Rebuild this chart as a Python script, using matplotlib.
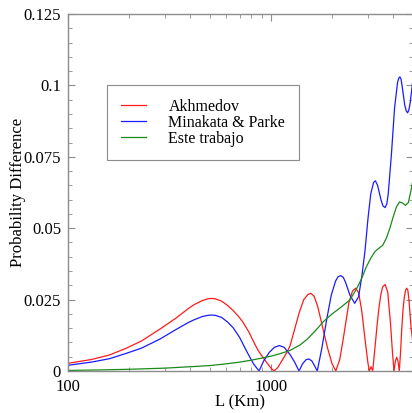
from matplotlib import pyplot as plt
from matplotlib.ticker import FixedLocator, FixedFormatter, NullFormatter
import numpy as np
import matplotlib as mpl
mpl.rcParams['font.family'] = ['Liberation Serif', 'DejaVu Serif']
mpl.rcParams['font.size'] = 12

# data (L in km, probability difference)
L_akh = [100, 130, 160, 194, 230, 284, 340, 392, 420, 460, 490, 510, 530, 570, 610,
         650, 690, 726, 780, 824, 867, 940, 1000, 1035, 1080, 1140, 1190, 1241,
         1300, 1378, 1450, 1520, 1570, 1630, 1700, 1800, 1900, 2000, 2085, 2180,
         2260, 2334, 2420, 2520, 2613, 2700, 2800, 2900, 3000, 3050, 3110, 3170,
         3250, 3330, 3400, 3480, 3550, 3650, 3760, 3880, 3970, 4037, 4100, 4158,
         4220, 4285, 4350, 4400, 4470, 4530, 4600, 4660, 4720, 4780, 4900, 5000]
P_akh = [0.0027, 0.0040, 0.0056, 0.0080, 0.0105, 0.0147, 0.0185, 0.0219, 0.0233,
         0.0247, 0.0253, 0.0254, 0.0253, 0.0245, 0.0230, 0.0212, 0.0192, 0.0172,
         0.0135, 0.0100, 0.0070, 0.0035, 0.0010, 0.0, 0.0012, 0.0040, 0.0062,
         0.0088, 0.0140, 0.0205, 0.0250, 0.0268, 0.0272, 0.0262, 0.0225, 0.0150,
         0.0080, 0.0025, 0.0, 0.0040, 0.0105, 0.0168, 0.0240, 0.0280, 0.0290,
         0.0275, 0.0210, 0.0115, 0.0030, 0.0, 0.0015, 0.0, 0.0080, 0.0160,
         0.0220, 0.0270, 0.0295, 0.0303, 0.0275, 0.0165, 0.0060, 0.0, 0.0035,
         0.0048, 0.0035, 0.0, 0.0070, 0.0140, 0.0215, 0.0255, 0.0283, 0.0290,
         0.0283, 0.0250, 0.0150, 0.0100]

L_mp = [100, 130, 160, 194, 230, 284, 340, 392, 420, 460, 490, 510, 530, 570, 610,
        650, 700, 760, 820, 873, 920, 980, 1040, 1099, 1160, 1240, 1310, 1374,
        1430, 1490, 1538, 1590, 1640, 1690, 1780, 1880, 1980, 2080, 2140, 2203,
        2270, 2330, 2450, 2583, 2700, 2800, 2904, 3000, 3100, 3200, 3267, 3350,
        3480, 3560, 3648, 3720, 3780, 3920, 4060, 4200, 4260, 4315, 4370, 4420,
        4560, 4640, 4710, 4780, 4850, 5000]
P_mp = [0.0020, 0.0031, 0.0043, 0.0062, 0.0080, 0.0112, 0.0145, 0.0170, 0.0180,
        0.0191, 0.0195, 0.0196, 0.0195, 0.0188, 0.0172, 0.0152, 0.0118, 0.0068,
        0.0025, 0.0, 0.0035, 0.0065, 0.0083, 0.0089, 0.0083, 0.0058, 0.0030,
        0.0, 0.0025, 0.0040, 0.0042, 0.0035, 0.0018, 0.0, 0.0080, 0.0180,
        0.0265, 0.0315, 0.0330, 0.0334, 0.0328, 0.0310, 0.0265, 0.0237, 0.0260,
        0.0330, 0.0420, 0.0530, 0.0620, 0.0660, 0.0666, 0.0650, 0.0600, 0.0578,
        0.0572, 0.0585, 0.0620, 0.0760, 0.0920, 0.1010, 0.1025, 0.1030, 0.1022,
        0.1000, 0.0930, 0.0910, 0.0904, 0.0915, 0.0940, 0.1020]

L_et = [100, 150, 200, 300, 400, 500, 600, 700, 800, 883, 1000, 1100, 1241, 1389,
        1500, 1650, 1811, 2000, 2200, 2449, 2650, 2800, 2950, 3100, 3250, 3400,
        3550, 3700, 3850, 4000, 4150, 4300, 4450, 4600, 4750, 4900, 5000]
P_et = [0.0002, 0.0004, 0.0006, 0.0010, 0.0015, 0.0019, 0.0025, 0.0031, 0.0038,
        0.0044, 0.0052, 0.0060, 0.0072, 0.0091, 0.0110, 0.0140, 0.0173, 0.0200,
        0.0222, 0.0249, 0.0290, 0.0325, 0.0365, 0.0395, 0.0418, 0.0430, 0.0440,
        0.0465, 0.0500, 0.0540, 0.0575, 0.0592, 0.0588, 0.0580, 0.0590, 0.0635,
        0.0668]

labels = ['Akhmedov', 'Minakata & Parke', 'Este trabajo']
ytick_vals = [0, 0.025, 0.05, 0.075, 0.1, 0.125]
ytick_labels = ['0', '0.025', '0.05', '0.075', '0.1', '0.125']

fig = plt.figure(figsize=(4.12, 4.13), dpi=100)
ax = fig.add_axes([68/412, 42/413, 344.9/412, 357/413])

ax.plot(L_akh, P_akh, color='#ff1a1a', lw=0.9, label=labels[0])
ax.plot(L_mp, P_mp, color='#1a1aff', lw=0.9, label=labels[1])
ax.plot(L_et, P_et, color='#1a8a1a', lw=0.9, label=labels[2])

ax.set_xscale('log')
ax.set_xlim(100, 5000)
ax.set_ylim(0, 0.125)

ax.xaxis.set_major_locator(FixedLocator([100, 1000]))
ax.xaxis.set_major_formatter(FixedFormatter(['100', '1000']))
ax.xaxis.set_minor_locator(FixedLocator([200, 300, 400, 500, 600, 700, 800, 900,
                                         2000, 3000, 4000, 5000]))
ax.xaxis.set_minor_formatter(NullFormatter())
ax.yaxis.set_major_locator(FixedLocator(ytick_vals))
ax.yaxis.set_major_formatter(FixedFormatter(ytick_labels))
ax.yaxis.set_minor_locator(FixedLocator(np.arange(0, 0.1251, 0.005)))

for side in ['left', 'bottom', 'top', 'right']:
    ax.spines[side].set_color('#8c8c8c')
    ax.spines[side].set_linewidth(1.0)
ax.tick_params(which='both', direction='in', top=True, right=True, color='#8c8c8c',
               labelsize=12)
ax.tick_params(which='major', length=5, width=0.8)
ax.tick_params(which='minor', length=3, width=0.6)
ax.tick_params(axis='x', which='major', pad=6)
ax.tick_params(axis='y', which='major', pad=5)

fig.text(18/412, 1 - 192/413, 'Probability Difference', rotation=90,
         ha='center', va='center', fontsize=12)
fig.text(240/412, 1 - 402/413, 'L (Km)', ha='center', va='center', fontsize=12)

leg = ax.legend(loc='upper left', bbox_to_anchor=((107-68)/344.9, (371-85)/357),
                frameon=True, fancybox=False, edgecolor='#8c8c8c', fontsize=11.5,
                handlelength=1.6, handletextpad=1.4, labelspacing=0.0,
                borderpad=0.85, borderaxespad=0, framealpha=1)
leg.get_frame().set_linewidth(0.8)

plt.savefig('out.png', dpi=100)
